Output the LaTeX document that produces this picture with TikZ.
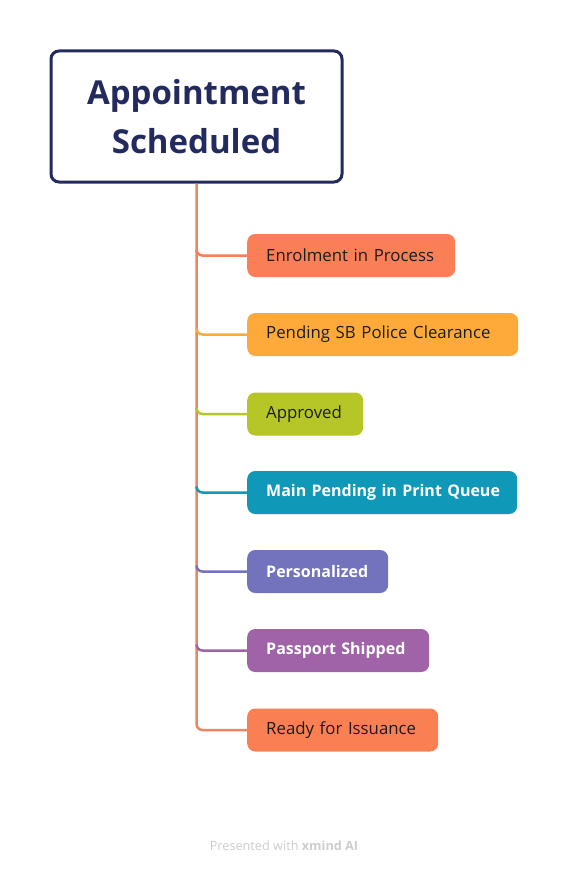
\documentclass[tikz,border=0pt]{standalone}
\usepackage{fontspec}
\setmainfont{Open Sans}
\usetikzlibrary{positioning}
\definecolor{navy}{RGB}{35,42,94}
\definecolor{trunkc}{RGB}{236,133,100}
\definecolor{cEnrol}{RGB}{250,127,87}
\definecolor{cPend}{RGB}{253,170,58}
\definecolor{cAppr}{RGB}{181,198,38}
\definecolor{cMain}{RGB}{16,152,184}
\definecolor{cPers}{RGB}{114,115,188}
\definecolor{cPass}{RGB}{160,99,168}
\definecolor{cReady}{RGB}{250,127,83}
\definecolor{darktxt}{RGB}{28,28,28}
\definecolor{footc}{RGB}{205,205,205}
\begin{document}
\begin{tikzpicture}[x=1pt,y=-1pt,
  topicbox/.style={draw=navy,line width=3pt,fill=white,rounded corners=8pt,
    minimum width=291pt,minimum height=131pt,inner sep=0pt,align=center,
    text=navy,font=\fontsize{33}{49}\selectfont\bfseries},
  subbox/.style={rounded corners=8pt,minimum height=43pt,inner xsep=19pt,inner ysep=0pt,
    anchor=west,align=left,font=\fontsize{16.8}{20}\selectfont},
  darkbox/.style={subbox,text=darktxt},
  lightbox/.style={subbox,text=white,font=\fontsize{16}{20}\selectfont\bfseries},
  branch/.style={line width=2.5pt,rounded corners=6pt},
]
\useasboundingbox[fill=white] (0,0) rectangle (568,872);
\node[topicbox] (main) at (196.5,116.5) {Appointment\\Scheduled};

\node[darkbox,fill=cEnrol,text width=170pt] (b1) at (247,255.5) {\mbox{Enrolment in Process}};
\node[darkbox,fill=cPend,text width=233pt] (b2) at (247,334.5) {\mbox{Pending SB Police Clearance}};
\node[darkbox,fill=cAppr,text width=78pt] (b3) at (247,414) {\mbox{Approved}};
\node[lightbox,fill=cMain,text width=232pt] (b4) at (247,492.5) {\mbox{Main Pending in Print Queue}};
\node[lightbox,fill=cPers,text width=103pt] (b5) at (247,571.5) {\mbox{Personalized}};
\node[lightbox,fill=cPass,text width=144pt] (b6) at (247,650.5) {\mbox{Passport Shipped}};
\node[darkbox,fill=cReady,text width=153pt] (b7) at (247,730) {\mbox{Ready for Issuance}};

\draw[branch,trunkc] (main.south) |- (b7.west);
\foreach \b/\c in {b1/cEnrol,b2/cPend,b3/cAppr,b4/cMain,b5/cPers,b6/cPass}{
  \draw[branch,\c] ([yshift=6pt]main.south |- \b.west) |- (\b.west);
}

\node[font=\fontsize{12.7}{14}\selectfont,text=footc] (foot) at (284,846)
  {Presented with \textbf{xmind AI}};
\end{tikzpicture}
\end{document}
